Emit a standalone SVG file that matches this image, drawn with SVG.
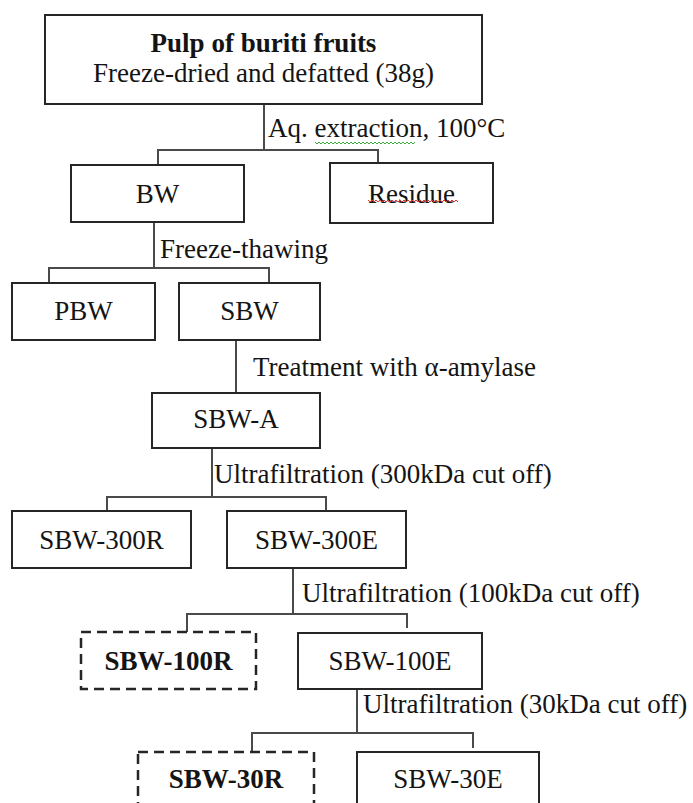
<svg xmlns="http://www.w3.org/2000/svg" width="693" height="803" viewBox="0 0 693 803">
<style>
  .box { fill: #fff; stroke: #262626; stroke-width: 2; }
  .dbox { fill: #fff; stroke: #262626; stroke-width: 2.5; stroke-dasharray: 10 6; }
  .t { font-family: "Liberation Serif", "Times New Roman", serif; font-size: 27px; fill: #141414; }
  .c { text-anchor: middle; }
  .b { font-weight: bold; }
  .conn { fill: none; stroke: #4a4a4a; stroke-width: 2; }
  .sq { fill: none; stroke-width: 1; }
</style>
<rect width="693" height="803" fill="#fff"/>
<g id="connectors">
  <polyline class="conn" points="264,104 264,150"/>
  <polyline class="conn" points="158,165 158,150 378,150 378,163"/>
  <polyline class="conn" points="154,222 154,268"/>
  <polyline class="conn" points="49,283 49,268 269,268 269,283"/>
  <polyline class="conn" points="236,340 236,393"/>
  <polyline class="conn" points="212,448 212,497"/>
  <polyline class="conn" points="107,511 107,497 326,497 326,511"/>
  <polyline class="conn" points="293,568 293,614"/>
  <polyline class="conn" points="187,632 187,614 407,614 407,628"/>
  <polyline class="conn" points="357,689 357,733"/>
  <polyline class="conn" points="252,752 252,733 473,733 473,748"/>
</g>
<g id="labels">
  <text class="t" x="268" y="137">Aq. extraction, 100°C</text>
  <path class="sq" stroke="#3aa83a" d="M315,142 l2,2 l2,-2 l2,2 l2,-2 l2,2 l2,-2 l2,2 l2,-2 l2,2 l2,-2 l2,2 l2,-2 l2,2 l2,-2 l2,2 l2,-2 l2,2 l2,-2 l2,2 l2,-2 l2,2 l2,-2 l2,2 l2,-2 l2,2 l2,-2 l2,2 l2,-2 l2,2 l2,-2 l2,2 l2,-2 l2,2 l2,-2 l2,2 l2,-2 l2,2 l2,-2 l2,2 l2,-2 l2,2 l2,-2 l2,2 l2,-2 l2,2 l2,-2 l2,2 l2,-2 l2,2 l2,-2"/>
  <text class="t" x="160" y="258">Freeze-thawing</text>
  <text class="t" x="253" y="376">Treatment with α-amylase</text>
  <text class="t" x="214" y="483">Ultrafiltration (300kDa cut off)</text>
  <text class="t" x="302" y="602">Ultrafiltration (100kDa cut off)</text>
  <text class="t" x="363" y="713">Ultrafiltration (30kDa cut off)</text>
</g>
<g id="pulp">
  <rect class="box" x="45" y="15" width="437" height="89"/>
  <text class="t c b" x="263.5" y="52">Pulp of buriti fruits</text>
  <text class="t c" x="263.5" y="82">Freeze-dried and defatted (38g)</text>
</g>
<g id="bw">
  <rect class="box" x="71" y="165" width="173" height="57"/>
  <text class="t c" x="157.5" y="203">BW</text>
</g>
<g id="residue">
  <rect class="box" x="330" y="163" width="163" height="60"/>
  <text class="t c" x="411.5" y="203">Residue</text>
  <path class="sq" stroke="#e03030" d="M368,200 l2,2 l2,-2 l2,2 l2,-2 l2,2 l2,-2 l2,2 l2,-2 l2,2 l2,-2 l2,2 l2,-2 l2,2 l2,-2 l2,2 l2,-2 l2,2 l2,-2 l2,2 l2,-2 l2,2 l2,-2 l2,2 l2,-2 l2,2 l2,-2 l2,2 l2,-2 l2,2 l2,-2 l2,2 l2,-2 l2,2 l2,-2 l2,2 l2,-2 l2,2 l2,-2 l2,2 l2,-2 l2,2 l2,-2 l2,2 l2,-2 l2,2"/>
</g>
<g id="pbw">
  <rect class="box" x="12" y="283" width="143" height="57"/>
  <text class="t c" x="83.5" y="320">PBW</text>
</g>
<g id="sbw">
  <rect class="box" x="179" y="283" width="141" height="57"/>
  <text class="t c" x="249.5" y="320">SBW</text>
</g>
<g id="sbw-a">
  <rect class="box" x="152" y="393" width="168" height="55"/>
  <text class="t c" x="236" y="428">SBW-A</text>
</g>
<g id="sbw-300r">
  <rect class="box" x="12" y="511" width="179" height="57"/>
  <text class="t c" x="101.5" y="549">SBW-300R</text>
</g>
<g id="sbw-300e">
  <rect class="box" x="227" y="511" width="179" height="57"/>
  <text class="t c" x="316.5" y="549">SBW-300E</text>
</g>
<g id="sbw-100r">
  <rect class="dbox" x="81" y="632" width="175" height="57"/>
  <text class="t c b" x="168.5" y="670">SBW-100R</text>
</g>
<g id="sbw-100e">
  <rect class="box" x="298" y="633" width="184" height="56"/>
  <text class="t c" x="390" y="670">SBW-100E</text>
</g>
<g id="sbw-30r">
  <rect class="dbox" x="138" y="752" width="176" height="70"/>
  <text class="t c b" x="226" y="788">SBW-30R</text>
</g>
<g id="sbw-30e">
  <rect class="box" x="357" y="752" width="182" height="70"/>
  <text class="t c" x="448" y="788">SBW-30E</text>
</g>
</svg>
